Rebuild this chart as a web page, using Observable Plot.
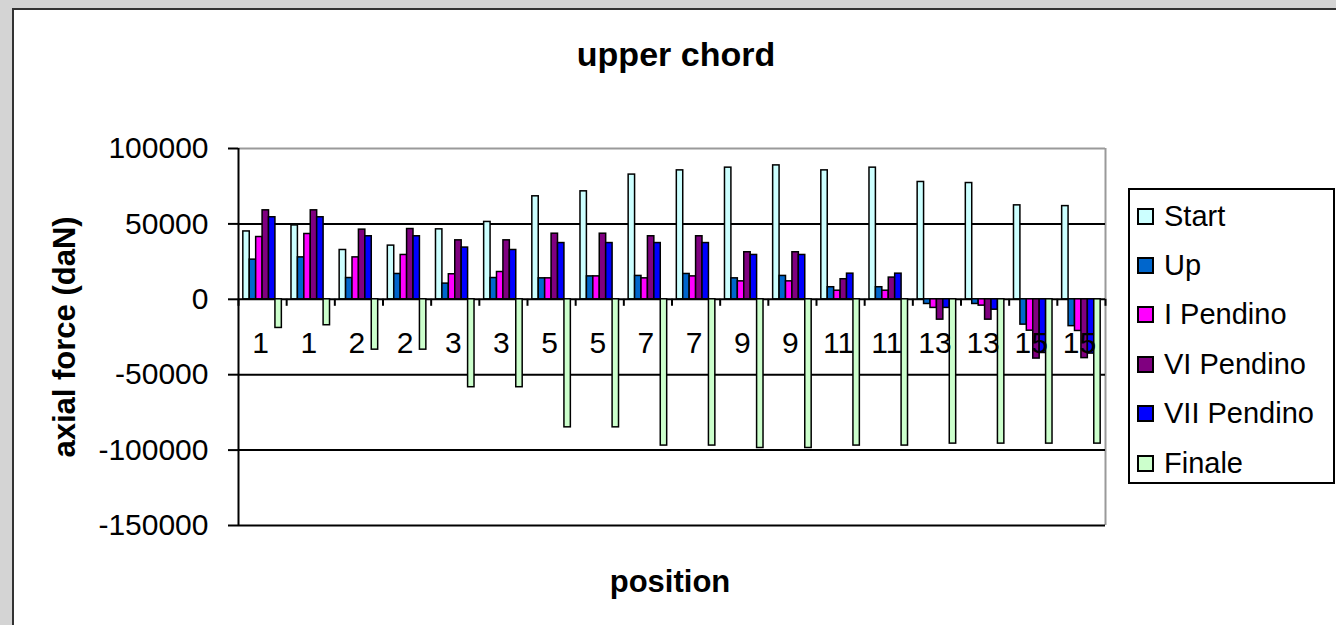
<!DOCTYPE html>
<html>
<head>
<meta charset="utf-8">
<script src="https://cdn.jsdelivr.net/npm/d3@7"></script>
<script src="https://cdn.jsdelivr.net/npm/@observablehq/plot@0.6"></script>
<style>
  html, body { margin: 0; padding: 0; background: #d4d4d4; }
  #wrap { position: relative; width: 1336px; height: 625px; overflow: hidden; background: #d4d4d4; font-family: "Liberation Sans", Arial, sans-serif; }
  #paper { position: absolute; left: 12px; top: 8px; width: 1340px; height: 650px; background: #fff; border: 2px solid #333; }
  #chart { position: absolute; left: 0; top: 0; }
  #legend { position: absolute; left: 1128px; top: 188px; width: 203px; height: 292px; background: #fff; border: 2px solid #000; }
  .item { position: absolute; left: 0; height: 34px; display: flex; align-items: center; font-size: 29px; color: #000; white-space: nowrap; }
  .sw { box-sizing: border-box; width: 17px; height: 17px; border: 2px solid #000; margin-left: 7px; margin-right: 10px; }
</style>
</head>
<body>
<div id="wrap">
  <div id="paper"></div>
  <div id="chart"></div>
  <div id="legend"></div>
</div>
<script>
// ---- data ----
const categories = ["1","1","2","2","3","3","5","5","7","7","9","9","11","11","13","13","15","15"];
const seriesNames = ["Start", "Up", "I Pendino", "VI Pendino", "VII Pendino", "Finale"];
const seriesColors = ["#ccffff", "#0066cc", "#ff00ff", "#800080", "#0000ff", "#ccffcc"];

const start      = [45000, 49000, 32700, 35600, 46400, 51300, 68300, 71600, 82700, 85500, 87300, 88800, 85500, 87300, 77800, 77100, 62300, 61800];
const up         = [26300, 27800, 14100, 16800, 10400, 14100, 13900, 15200, 15500, 16800, 13900, 15500, 8000, 8000, -3100, -3100, -16800, -17800];
const iPendino   = [41300, 43300, 27800, 29400, 16600, 18100, 13900, 15200, 13900, 15200, 11900, 11900, 5700, 5700, -5700, -4200, -20800, -21000];
const viPendino  = [59000, 59000, 46200, 46600, 39100, 39100, 43500, 43500, 41800, 41800, 31200, 31200, 13300, 14400, -13500, -13500, -39300, -39000];
const viiPendino = [54400, 54400, 41800, 41800, 34300, 32700, 37300, 37300, 37300, 37300, 29400, 29400, 17000, 17000, -5700, -6900, -35600, -36000];
const finale     = [-19000, -17200, -33400, -33400, -58300, -58300, -84900, -84900, -97000, -97000, -98600, -98600, -97000, -97000, -95700, -95700, -95700, -95700];

const yTicks = [100000, 50000, 0, -50000, -100000, -150000];
const gridValues = [50000, 0, -50000, -100000, -150000];

// ---- table built from arrays ----
const seriesValues = [start, up, iPendino, viPendino, viiPendino, finale];
const GAP = 1.5; // Excel gap width (in bar widths)
const slots = seriesNames.length + GAP;
const bars = [];
categories.forEach((c, i) => {
  seriesNames.forEach((s, k) => {
    bars.push({cat: i, series: s, k, value: seriesValues[k][i]});
  });
});
const boundaries = d3.range(0, categories.length + 1);

const chart = Plot.plot({
  width: 1336,
  height: 625,
  marginLeft: 238,
  marginRight: 231,
  marginTop: 148,
  marginBottom: 100,
  x: {domain: [0, categories.length], axis: null},
  y: {domain: [-150000, 100000], axis: null},
  color: {domain: seriesNames, range: seriesColors},
  style: {background: "transparent", fontFamily: "'Liberation Sans', Arial, sans-serif", color: "#000", overflow: "visible"},
  marks: [
    // plot area border (top/right, gray)
    Plot.ruleY([yTicks[0]], {stroke: "#9a9a9a", strokeWidth: 2}),
    Plot.ruleX([categories.length], {stroke: "#9a9a9a", strokeWidth: 2}),
    // gridlines
    Plot.ruleY(gridValues, {stroke: "#000", strokeWidth: 2}),
    // category tick marks on the zero line
    Plot.ruleX(boundaries, {x: d => d, y1: () => 0, y2: () => 0, insetBottom: -7, stroke: "#000", strokeWidth: 2}),
    // bars
    Plot.rectY(bars, {
      x1: d => d.cat + (GAP / 2 + d.k) / slots,
      x2: d => d.cat + (GAP / 2 + d.k + 1) / slots,
      y1: () => 0,
      y2: "value",
      fill: "series",
      stroke: "#000",
      strokeWidth: 1.5
    }),
    // category labels
    Plot.text(categories, {x: (d, i) => i + 0.5, y: () => 0, dy: 44, dx: -2, text: d => d, fontSize: 30, fill: "#000"}),
    // left axis line
    Plot.ruleX([0], {stroke: "#000", strokeWidth: 2}),
    Plot.axisY({ticks: yTicks, tickSize: 10, tickPadding: 20, tickFormat: d => String(d), fontSize: 30, label: null, stroke: "#000", strokeWidth: 2, fill: "#000"}),
    // titles
    Plot.text(["upper chord"], {frameAnchor: "top", lineAnchor: "middle", dy: -93, dx: 4, text: d => d, fontSize: 34, fontWeight: "bold", fill: "#000"}),
    Plot.text(["position"], {frameAnchor: "bottom", lineAnchor: "middle", dy: 57, dx: -2, text: d => d, fontSize: 31, fontWeight: "bold", fill: "#000"}),
    Plot.text(["axial force (daN)"], {frameAnchor: "left", textAnchor: "middle", lineAnchor: "middle", dx: -173, rotate: -90, text: d => d, fontSize: 31, fontWeight: "bold", fill: "#000"})
  ]
});
document.getElementById("chart").appendChild(chart);

// legend
const legend = document.getElementById("legend");
seriesNames.forEach((s, k) => {
  const item = document.createElement("div");
  item.className = "item";
  item.style.top = (28 + k * 49.4 - 17 - 2) + "px";
  const sw = document.createElement("div");
  sw.className = "sw";
  sw.style.background = seriesColors[k];
  const t = document.createElement("span");
  t.textContent = s;
  item.appendChild(sw);
  item.appendChild(t);
  legend.appendChild(item);
});
</script>
</body>
</html>
